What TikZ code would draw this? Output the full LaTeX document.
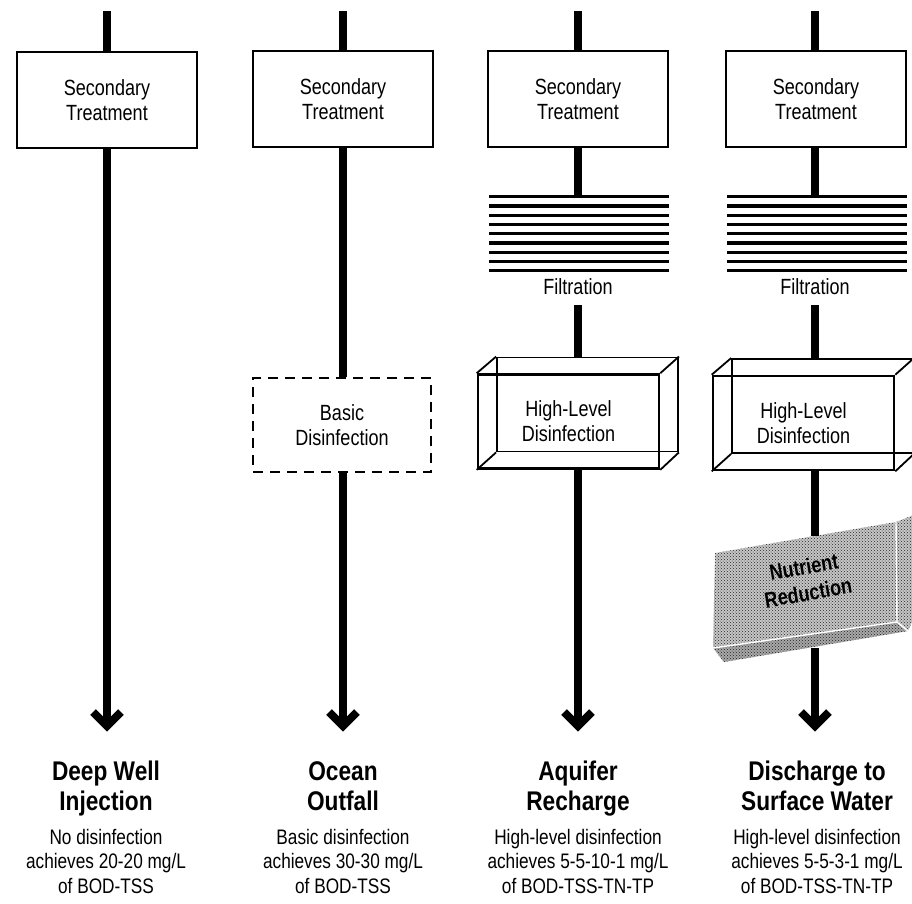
\documentclass[tikz,border=0pt]{standalone}
\usepackage{fontspec}
\setmainfont{Liberation Sans}[FakeStretch=0.82]
\newfontfamily\titlefont{Liberation Sans Bold}[FakeStretch=0.84]
\usetikzlibrary{calc,patterns}
\begin{document}
\begin{tikzpicture}[x=1pt,y=-1pt,
  flow/.style={line width=7.5pt},
  chev/.style={line width=8pt, line join=miter, line cap=butt},
  boxtext/.style={font=\fontsize{22}{25}\selectfont, align=center, inner sep=0pt},
  stbox/.style={boxtext, draw, line width=2.6pt, minimum width=180pt, minimum height=96pt},
  dbox/.style={boxtext, draw, line width=2.8pt, dash pattern=on 10pt off 7pt, minimum width=178pt, minimum height=94pt},
  frontbox/.style={boxtext, draw, line width=2.6pt, minimum width=181pt, minimum height=94pt},
  backbox/.style={draw, line width=1.8pt, minimum width=181pt, minimum height=94pt, inner sep=0pt},
  filt/.style={minimum width=180pt, minimum height=74pt, inner sep=0pt},
  filline/.style={line width=3.2pt},
  ttl/.style={anchor=base, inner sep=0pt, font=\titlefont\fontsize{27}{30}\selectfont},
  dsc/.style={anchor=base, inner sep=0pt, font=\fontsize{21}{25}\selectfont},
  slabedge/.style={white, line width=1.4pt}
]
\useasboundingbox (0,0) rectangle (912,903);

% ---------- column 1 ----------
\coordinate (top1) at (107,11);
\node[stbox] (st1) at (107,100) {Secondary\\Treatment};
\coordinate (tip1) at (107,726);
\draw[flow] (top1) -- (st1.north);
\draw[flow] (st1.south) -- (tip1);
\draw[chev] ($(tip1)+(-14,-14)$) -- (tip1) -- ($(tip1)+(14,-14)$);

% ---------- column 2 ----------
\coordinate (top2) at (343,11);
\node[stbox] (st2) at (343,99) {Secondary\\Treatment};
\node[dbox] (bd) at (342,425) {Basic\\Disinfection};
\coordinate (tip2) at (343,726);
\draw[flow] (top2) -- (st2.north);
\draw[flow] (st2.south) -- (st2.south |- bd.north);
\draw[flow] (st2.south |- bd.south) -- (tip2);
\draw[chev] ($(tip2)+(-14,-14)$) -- (tip2) -- ($(tip2)+(14,-14)$);

% ---------- column 3 ----------
\coordinate (top3) at (578,11);
\node[stbox] (st3) at (578,99) {Secondary\\Treatment};
\node[filt] (fil3) at (579,234) {};
\foreach \i in {0,...,8}
  \draw[filline] ($(fil3.north west)+(0,9.25*\i)$) -- ($(fil3.north east)+(0,9.25*\i)$);
\node[boxtext] (fl3) at (578,287) {Filtration};
\coordinate (f3b) at (578,305);
\node[backbox] (hb3) at (587.5,404.5) {};
\node[frontbox] (hf3) at (568.5,421.5) {High-Level\\Disinfection};
\draw[line width=1.8pt] (hf3.north west) -- (hb3.north west)
  (hf3.north east) -- (hb3.north east)
  (hf3.south west) -- (hb3.south west)
  (hf3.south east) -- (hb3.south east);
\coordinate (tip3) at (578,726);
\draw[flow] (top3) -- (st3.north);
\draw[flow] (st3.south) -- (fil3.north -| st3.south);
\draw[flow] (f3b) -- (f3b |- hb3.north);
\draw[flow] (tip3 |- hf3.south) -- (tip3);
\draw[chev] ($(tip3)+(-14,-14)$) -- (tip3) -- ($(tip3)+(14,-14)$);

% ---------- column 4 ----------
\coordinate (top4) at (815,11);
\node[stbox] (st4) at (816,99) {Secondary\\Treatment};
\node[filt] (fil4) at (817,234) {};
\foreach \i in {0,...,8}
  \draw[filline] ($(fil4.north west)+(0,9.25*\i)$) -- ($(fil4.north east)+(0,9.25*\i)$);
\node[boxtext] (fl4) at (815,287) {Filtration};
\coordinate (f4b) at (815,305);
\node[backbox] (hb4) at (822.5,406) {};
\node[frontbox] (hf4) at (803.5,423) {High-Level\\Disinfection};
\draw[line width=1.8pt] (hf4.north west) -- (hb4.north west)
  (hf4.north east) -- (hb4.north east)
  (hf4.south west) -- (hb4.south west)
  (hf4.south east) -- (hb4.south east);
% nutrient reduction slab
\coordinate (nTL) at (715,553);
\coordinate (nTR) at (896,522);
\coordinate (nBR) at (897,622);
\coordinate (nBL) at (713,648);
\coordinate (sTR) at (916,514);
\coordinate (sBR) at (916,613);
\coordinate (bBR) at (908,631);
\coordinate (bBL) at (724,662);
\begin{scope}
  \clip (0,0) rectangle (912,903);
  \fill[gray!45] (nTL) -- (nTR) -- (sTR) -- (sBR) -- (bBR) -- (bBL) -- (nBL) -- cycle;
  \fill[pattern=crosshatch dots, pattern color=black!85] (nTL) -- (nTR) -- (sTR) -- (sBR) -- (bBR) -- (bBL) -- (nBL) -- cycle;
  \fill[black, opacity=0.15] (nBL) -- (nBR) -- (bBR) -- (bBL) -- cycle;
  \draw[slabedge] (nTR) -- (nBR) -- (nBL);
  \draw[slabedge] (nBR) -- (bBR);
\end{scope}
\node[boxtext, rotate=10, font=\fontsize{22}{26}\selectfont\bfseries] (nr) at (806,580) {Nutrient\\Reduction};
\coordinate (n4a) at (815,536);
\coordinate (n4b) at (815,648);
\coordinate (tip4) at (815,726);
\draw[flow] (top4) -- (st4.north -| top4);
\draw[flow] (st4.south -| top4) -- (fil4.north -| top4);
\draw[flow] (f4b) -- (f4b |- hb4.north);
\draw[flow] (tip4 |- hf4.south) -- (n4a);
\draw[flow] (n4b) -- (tip4);
\draw[chev] ($(tip4)+(-14,-14)$) -- (tip4) -- ($(tip4)+(14,-14)$);

% ---------- bottom labels ----------
\node[ttl] (t1a) at (106,780) {Deep Well};
\node[ttl] (t1b) at (106,810) {Injection};
\node[dsc] (d1a) at (106,844) {No disinfection};
\node[dsc] (d1b) at (106,868) {achieves 20-20 mg/L};
\node[dsc] (d1c) at (106,893) {of BOD-TSS};

\node[ttl] (t2a) at (343,780) {Ocean};
\node[ttl] (t2b) at (343,810) {Outfall};
\node[dsc] (d2a) at (343,844) {Basic disinfection};
\node[dsc] (d2b) at (343,868) {achieves 30-30 mg/L};
\node[dsc] (d2c) at (343,893) {of BOD-TSS};

\node[ttl] (t3a) at (578,780) {Aquifer};
\node[ttl] (t3b) at (578,810) {Recharge};
\node[dsc] (d3a) at (578,844) {High-level disinfection};
\node[dsc] (d3b) at (578,868) {achieves 5-5-10-1 mg/L};
\node[dsc] (d3c) at (578,893) {of BOD-TSS-TN-TP};

\node[ttl] (t4a) at (817,780) {Discharge to};
\node[ttl] (t4b) at (817,810) {Surface Water};
\node[dsc] (d4a) at (817,844) {High-level disinfection};
\node[dsc] (d4b) at (817,868) {achieves 5-5-3-1 mg/L};
\node[dsc] (d4c) at (817,893) {of BOD-TSS-TN-TP};
\end{tikzpicture}
\end{document}
